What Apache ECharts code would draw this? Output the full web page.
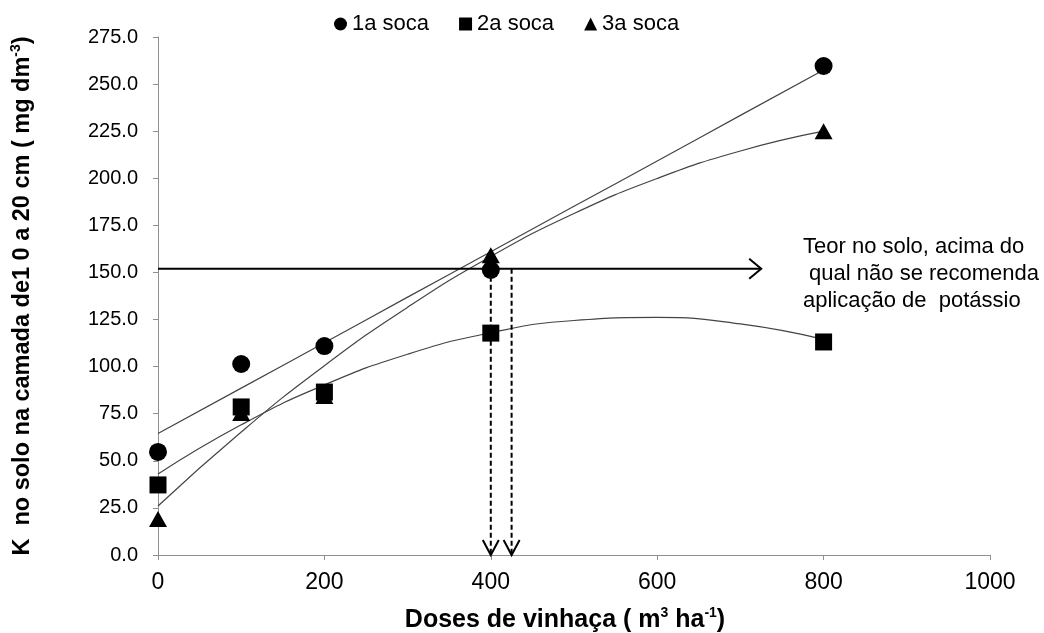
<!DOCTYPE html>
<html><head><meta charset="utf-8">
<script src="https://cdn.jsdelivr.net/npm/echarts@6/dist/echarts.min.js"></script>
<style>html,body{margin:0;padding:0;background:#fff}#c{width:1044px;height:633px}</style>
</head><body><div id="c"></div>
<script>
// ---- data ----
const doses = [0, 100, 200, 400, 800];
const soca1 = [54.7, 101.4, 110.9, 151.3, 259.6];
const soca2 = [37.2, 78.6, 86.5, 117.8, 113.1];
const soca3 = [19.1, 75.4, 84.4, 159.2, 225.0];
const trendX = [0, 100, 200, 300, 400, 500, 600, 700, 800];
const trend1 = [64.5, 88.6, 112.7, 136.9, 161.0, 185.1, 209.2, 233.4, 257.5];
const trend2 = [43.0, 69.1, 90.3, 106.6, 118.0, 124.5, 126.1, 122.7, 114.5];
const trend3 = [26.0, 65.3, 100.5, 131.5, 158.5, 181.3, 199.9, 214.5, 225.0];
const seriesNames = ['1a soca', '2a soca', '3a soca'];
const xTicks = [0, 200, 400, 600, 800, 1000];
const yTicks = [0, 25, 50, 75, 100, 125, 150, 175, 200, 225, 250, 275];
const limitValue = 152;       // horizontal arrow level
const limitArrowEnd = 725;    // x where the horizontal arrow ends
const dropDoses = [400, 425]; // dashed arrows down to x axis
const noteLines = ['Teor no solo, acima do', ' qual não se recomenda', 'aplicação de  potássio'];

const FONT = '"Liberation Sans", Arial, sans-serif';
const zip = (xs, ys) => xs.map((x, i) => [x, ys[i]]);

const arrows = [[0, limitValue, limitArrowEnd, limitValue, 0]]
  .concat(dropDoses.map(d => [d, limitValue, d, 0, 1]));

const chart = echarts.init(document.getElementById('c'), null, {renderer: 'canvas'});

const axisCommon = {
  axisLine: {show: true, lineStyle: {color: '#8f8f8f', width: 1}},
  axisTick: {show: true, length: 5, lineStyle: {color: '#8f8f8f'}},
  splitLine: {show: false},
};

const trendStyle = {type: 'line', smooth: true, showSymbol: false, silent: true,
  lineStyle: {color: '#444', width: 1.2}, z: 1};

chart.setOption({
  animation: false,
  backgroundColor: '#fff',
  textStyle: {fontFamily: FONT},
  grid: {left: 158, right: 54, top: 37, bottom: 78, containLabel: false, outerBoundsMode: 'none'},
  legend: {
    data: [
      {name: seriesNames[0], icon: 'circle'},
      {name: seriesNames[1], icon: 'rect'},
      {name: seriesNames[2], icon: 'triangle'}
    ],
    left: 329, top: 8,
    itemWidth: 13, itemHeight: 13, itemGap: 30,
    textStyle: {fontSize: 22, color: '#000', fontFamily: FONT}
  },
  xAxis: Object.assign({
    type: 'value', min: xTicks[0], max: xTicks[xTicks.length - 1], interval: 200,
    axisLabel: {fontSize: 23, color: '#000', margin: 16, fontFamily: FONT, formatter: v => String(v)},
    name: '{a|Doses de vinhaça ( m}{s|3}{a| ha}{s|-1}{a|)}',
    nameLocation: 'middle', nameGap: 51,
    nameTextStyle: {
      padding: [0, 18, 0, 0],
      rich: {
        a: {fontSize: 25, fontWeight: 'bold', color: '#000', fontFamily: FONT, lineHeight: 28},
        s: {fontSize: 14, fontWeight: 'bold', color: '#000', fontFamily: FONT, verticalAlign: 'top', lineHeight: 28}
      }
    }
  }, axisCommon),
  yAxis: Object.assign({
    type: 'value', min: yTicks[0], max: yTicks[yTicks.length - 1], interval: 25,
    axisLabel: {fontSize: 20, color: '#000', margin: 20, fontFamily: FONT,
      formatter: v => v.toFixed(1)},
    name: '{a|K  no solo na camada de1 0 a 20 cm ( mg dm}{s|-3}{a|)}',
    nameLocation: 'middle', nameGap: 121, nameRotate: 90,
    nameTextStyle: {
      rich: {
        a: {fontSize: 23.5, fontWeight: 'bold', color: '#000', fontFamily: FONT, lineHeight: 28},
        s: {fontSize: 14, fontWeight: 'bold', color: '#000', fontFamily: FONT, verticalAlign: 'top', lineHeight: 28}
      }
    }
  }, axisCommon),
  graphic: [{
    type: 'text', left: 803, top: 233,
    style: {text: noteLines.join('\n'), font: '22px ' + FONT, fill: '#000', lineHeight: 27}
  }],
  series: [
    Object.assign({name: 'trend1', data: zip(trendX, trend1)}, trendStyle),
    Object.assign({name: 'trend2', data: zip(trendX, trend2)}, trendStyle),
    Object.assign({name: 'trend3', data: zip(trendX, trend3)}, trendStyle),
    {
      name: 'arrows', type: 'custom', data: arrows, encode: {x: [0, 2], y: [1, 3]}, clip: false, silent: true, z: 2,
      renderItem: function (params, api) {
        const p1 = api.coord([api.value(0), api.value(1)]);
        const p2 = api.coord([api.value(2), api.value(3)]);
        const dashed = api.value(4) === 1;
        const dx = p2[0] - p1[0], dy = p2[1] - p1[1];
        const len = Math.sqrt(dx * dx + dy * dy) || 1;
        const ux = dx / len, uy = dy / len, nx = -uy, ny = ux;
        const L = dashed ? 15 : 12, W = dashed ? 8 : 10;
        const a = [p2[0] - ux * L + nx * W, p2[1] - uy * L + ny * W];
        const b = [p2[0] - ux * L - nx * W, p2[1] - uy * L - ny * W];
        return {
          type: 'group',
          children: [
            {type: 'line', shape: {x1: p1[0], y1: p1[1], x2: p2[0], y2: p2[1]},
              style: {stroke: '#000', lineWidth: 2, lineDash: dashed ? [5, 3] : null}},
            {type: 'polyline', shape: {points: [a, p2, b]},
              style: {stroke: '#000', lineWidth: 2, fill: null}}
          ]
        };
      }
    },
    {name: seriesNames[2], type: 'scatter', data: zip(doses, soca3), symbol: 'triangle', symbolSize: [18, 16],
      itemStyle: {color: '#000', opacity: 1}, z: 3},
    {name: seriesNames[1], type: 'scatter', data: zip(doses, soca2), symbol: 'rect', symbolSize: 17,
      itemStyle: {color: '#000', opacity: 1}, z: 4},
    {name: seriesNames[0], type: 'scatter', data: zip(doses, soca1), symbol: 'circle', symbolSize: 18,
      itemStyle: {color: '#000', opacity: 1}, z: 5}
  ]
});
</script></body></html>
